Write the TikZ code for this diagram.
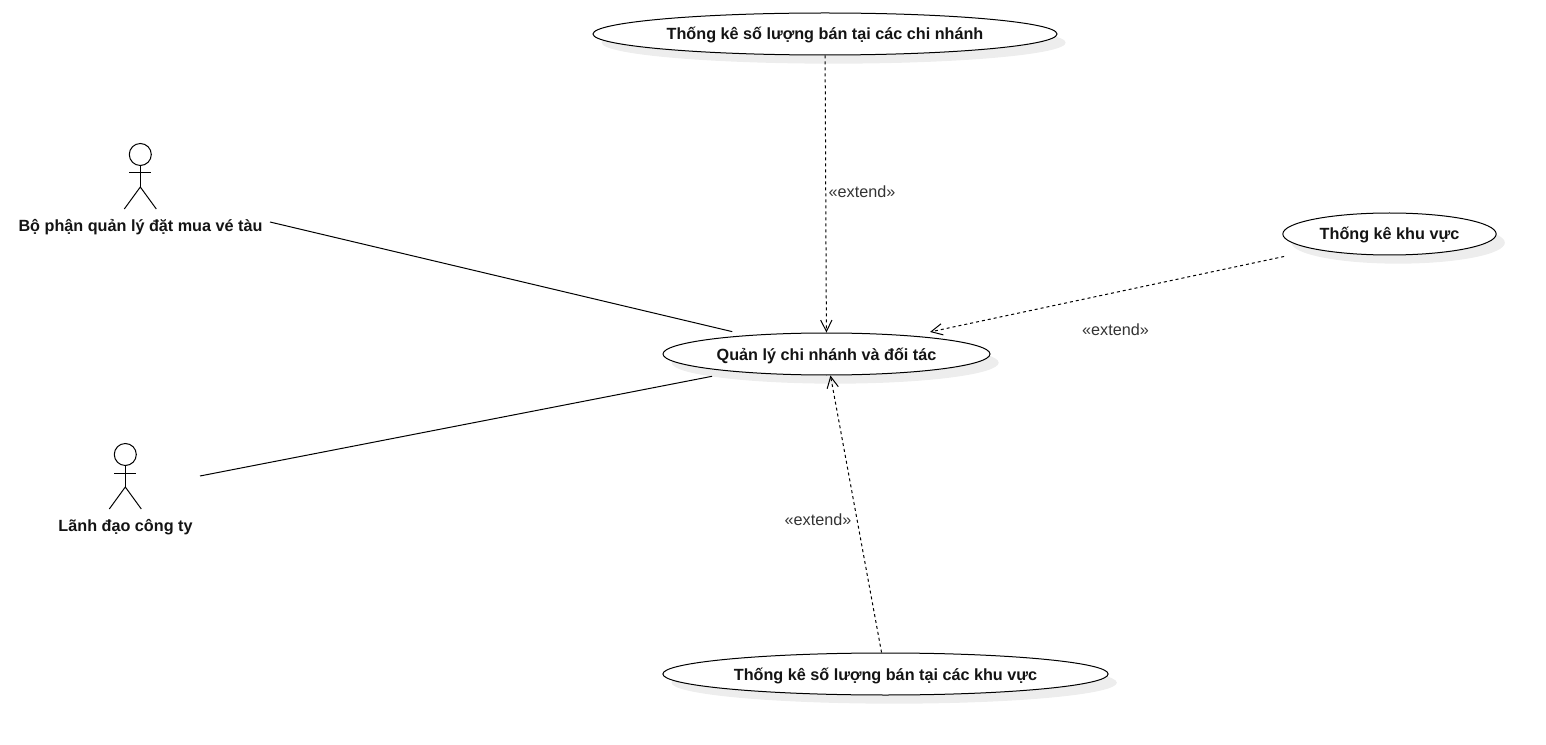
\documentclass[tikz,border=0pt]{standalone}
\usepackage{fontspec}
\setmainfont{Liberation Sans}
\usetikzlibrary{positioning, arrows.meta, shapes, shadows}

\begin{document}
\begin{tikzpicture}[x=0.75pt, y=-0.75pt, line width=0.75pt,
    usecase/.style={ellipse, draw=black, fill=white, inner sep=0pt, minimum height=31.5pt,
        text height=10.5pt, text depth=1.5pt, font=\bfseries\fontsize{12.15}{14}\selectfont, text=black!92,
        drop shadow={shadow xshift=6.5pt, shadow yshift=-6.5pt, fill=black!7, opacity=1}},
    actorlabel/.style={inner sep=0pt, text height=10.5pt, text depth=1.5pt, font=\bfseries\fontsize{12.15}{14}\selectfont, text=black!92},
    extendlabel/.style={inner sep=0pt, text height=10.5pt, text depth=1.5pt, font=\fontsize{12.15}{14}\selectfont, text=black!80},
    assoc/.style={draw=black},
    extendline/.style={draw=black, dash pattern=on 2.25pt off 2.25pt, -{Straight Barb[length=8.5pt, width=8.5pt, line width=0.75pt]}},
    actor/.pic={
        \draw (0,-21.5) circle[radius=8.25pt];
        \draw (0,-11) -- (0,11);
        \draw (-11,-3) -- (11,-3);
        \draw (-16,33) -- (0,11) -- (16,33);
    }]

\useasboundingbox (0,0) rectangle (1546,745);

% Use cases
\node[usecase, minimum width=348pt] (ucTop) at (825,34) {Thống kê số lượng bán tại các chi nhánh};
\node[usecase, minimum width=245.25pt] (ucMain) at (826.5,354) {Quản lý chi nhánh và đối tác};
\node[usecase, minimum width=160pt] (ucRight) at (1389.5,234) {Thống kê khu vực};
\node[usecase, minimum width=334pt] (ucBottom) at (885.5,674) {Thống kê số lượng bán tại các khu vực};

% Actors
\pic (staff) at (140.3,176) {actor};
\node[actorlabel] (staffLabel) at (140.5,225.5) {Bộ phận quản lý đặt mua vé tàu};
\pic (boss) at (125.3,476) {actor};
\node[actorlabel] (bossLabel) at (125.5,525.5) {Lãnh đạo công ty};

% Free ends of the associations
\coordinate (staffEnd) at (270,222);
\coordinate (bossEnd) at (200,476);

% Associations
\draw[assoc, shorten >=11.5pt] (staffEnd) -- (ucMain);
\draw[assoc, shorten >=17.5pt] (bossEnd) -- (ucMain);

% Extend arrows
\draw[extendline] (ucTop) -- node[extendlabel, pos=0.492, right=1.8pt] (extendTop) {«extend»} (ucMain);
\draw[extendline, shorten <=24.5pt, shorten >=13.5pt] (ucRight) -- (ucMain);
\node[extendlabel] (extendRight) at (1115.5,329.5) {«extend»};
\draw[extendline] (ucBottom) -- (ucMain);
\node[extendlabel] (extendBottom) at (818,519.5) {«extend»};

\end{tikzpicture}
\end{document}
